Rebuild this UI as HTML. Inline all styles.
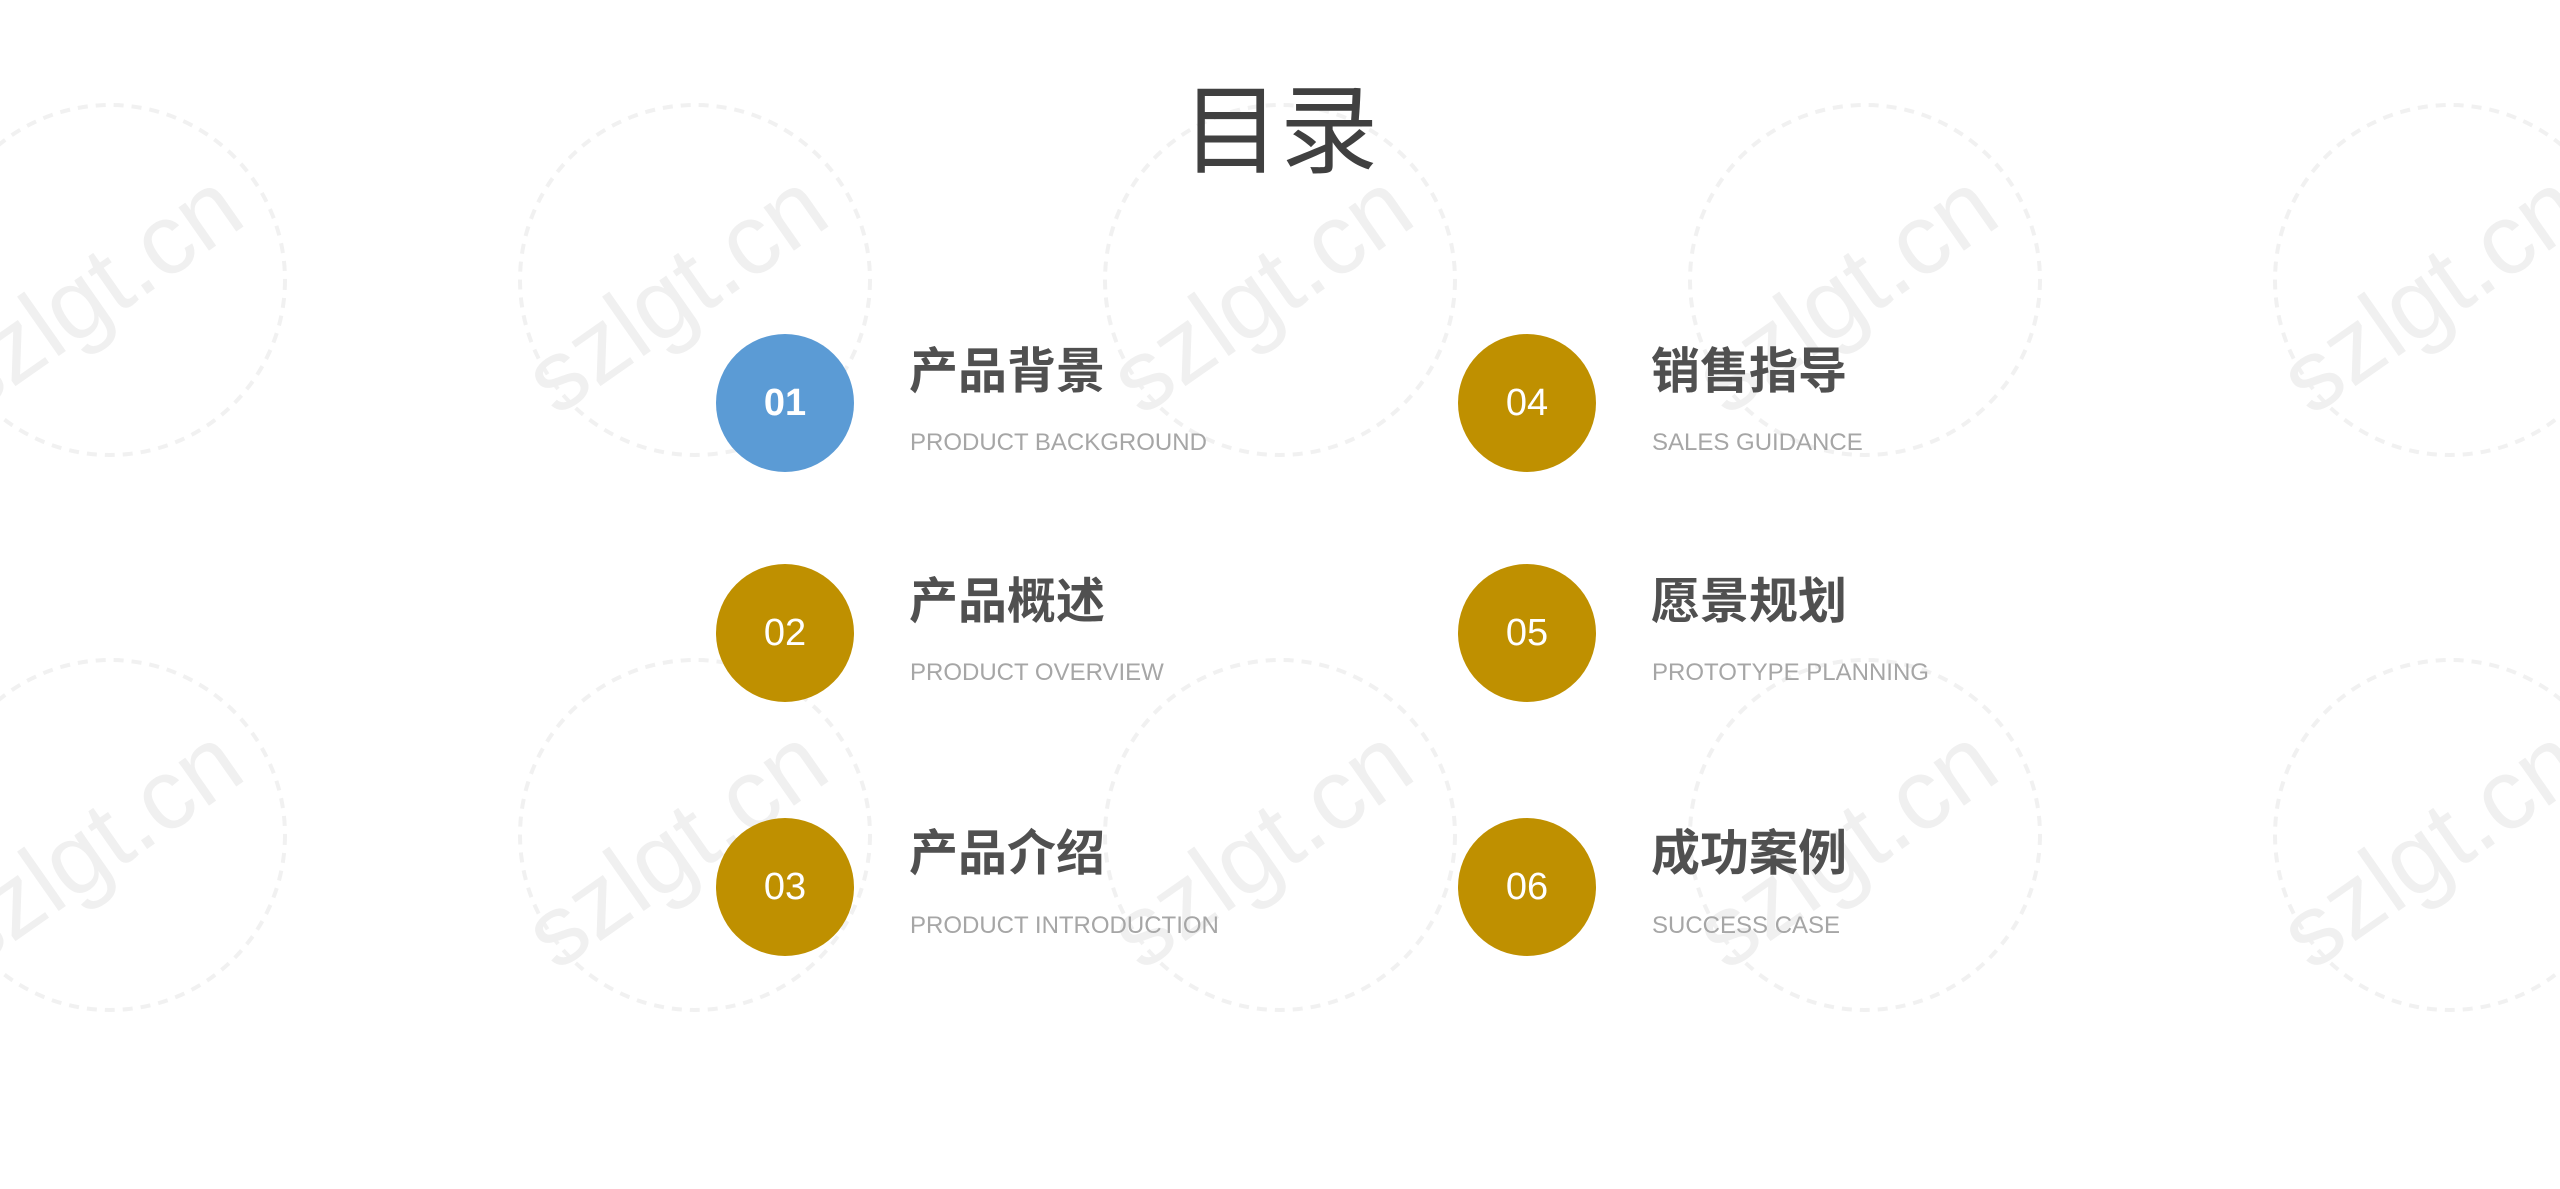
<!DOCTYPE html>
<html><head><meta charset="utf-8"><style>
html,body{margin:0;padding:0}
body{width:2560px;height:1189px;position:relative;overflow:hidden;background:#fff;font-family:"Liberation Sans","Noto Sans CJK SC",sans-serif}
.wm{position:absolute;left:0;top:0}
.t{position:absolute;left:0;width:2560px;top:82px;text-align:center;font-size:98px;color:#404040;line-height:1}
.c{position:absolute;width:138px;height:138px;border-radius:50%;background:#bf9000;color:#fff;font-size:38px;line-height:138px;text-align:center}
.h{position:absolute;font-size:49px;font-weight:bold;color:#505050;line-height:1}
.s{position:absolute;font-size:24px;color:#a6a6a6;line-height:1}
</style></head><body>
<svg class="wm" width="2560" height="1189">
<g fill="none" stroke="#f1f1f1" stroke-width="4" stroke-dasharray="10 8">
<circle cx="110" cy="280" r="175"/><circle cx="695" cy="280" r="175"/><circle cx="1280" cy="280" r="175"/><circle cx="1865" cy="280" r="175"/><circle cx="2450" cy="280" r="175"/>
<circle cx="110" cy="835" r="175"/><circle cx="695" cy="835" r="175"/><circle cx="1280" cy="835" r="175"/><circle cx="1865" cy="835" r="175"/><circle cx="2450" cy="835" r="175"/>
</g>
<g fill="#f0f0f0" font-family="Liberation Sans,sans-serif" font-size="100" text-anchor="middle">
<text transform="translate(110,320) rotate(-35)">szlgt.cn</text>
<text transform="translate(695,320) rotate(-35)">szlgt.cn</text>
<text transform="translate(1280,320) rotate(-35)">szlgt.cn</text>
<text transform="translate(1865,320) rotate(-35)">szlgt.cn</text>
<text transform="translate(2450,320) rotate(-35)">szlgt.cn</text>
<text transform="translate(110,875) rotate(-35)">szlgt.cn</text>
<text transform="translate(695,875) rotate(-35)">szlgt.cn</text>
<text transform="translate(1280,875) rotate(-35)">szlgt.cn</text>
<text transform="translate(1865,875) rotate(-35)">szlgt.cn</text>
<text transform="translate(2450,875) rotate(-35)">szlgt.cn</text>
</g>
</svg>
<div class="t">目录</div>

<div class="c" style="left:716px;top:334px;background:#5b9bd5;font-weight:bold">01</div>
<div class="h" style="left:909px;top:348px">产品背景</div>
<div class="s" style="left:910px;top:431px">PRODUCT BACKGROUND</div>

<div class="c" style="left:716px;top:564px">02</div>
<div class="h" style="left:909px;top:578px">产品概述</div>
<div class="s" style="left:910px;top:661px">PRODUCT OVERVIEW</div>

<div class="c" style="left:716px;top:818px">03</div>
<div class="h" style="left:909px;top:830px">产品介绍</div>
<div class="s" style="left:910px;top:914px">PRODUCT INTRODUCTION</div>

<div class="c" style="left:1458px;top:334px">04</div>
<div class="h" style="left:1651px;top:348px">销售指导</div>
<div class="s" style="left:1652px;top:431px">SALES GUIDANCE</div>

<div class="c" style="left:1458px;top:564px">05</div>
<div class="h" style="left:1651px;top:578px">愿景规划</div>
<div class="s" style="left:1652px;top:661px">PROTOTYPE PLANNING</div>

<div class="c" style="left:1458px;top:818px">06</div>
<div class="h" style="left:1651px;top:830px">成功案例</div>
<div class="s" style="left:1652px;top:914px">SUCCESS CASE</div>
</body></html>
